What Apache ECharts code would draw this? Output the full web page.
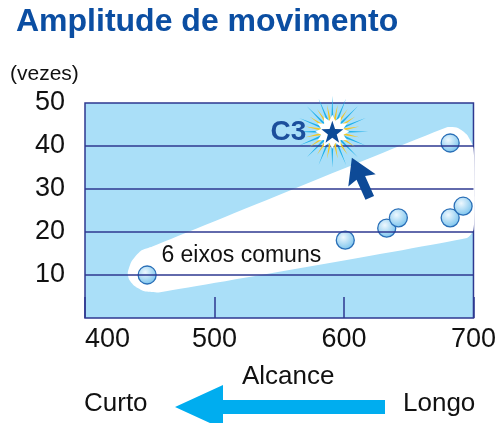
<!DOCTYPE html>
<html>
<head>
<meta charset="utf-8">
<script src="https://cdn.jsdelivr.net/npm/echarts@6/dist/echarts.min.js"></script>
<style>
  html, body { margin: 0; padding: 0; background: #fff; }
  #chart { width: 499px; height: 423px; }
</style>
</head>
<body>
<div id="chart"></div>
<script>
// eixos
const xMin = 400, xMax = 700, xStep = 100
const yMin = 0, yMax = 50, yStep = 10
const linhasY = [10, 20, 30, 40]

// 6 eixos comuns (alcance, vezes)
const alcance = [448, 601, 633, 642, 682, 692, 682]
const vezes = [10, 18.1, 20.9, 23.3, 23.3, 26, 40.7]

// C3
const c3 = [591, 43.3]

// faixa branca em volta dos pontos (contorno em coordenadas de dados)
const faixaX = [433, 436, 443, 452, 679, 688, 695, 700, 701, 700, 695, 458, 446, 438, 434]
const faixaY = [10.5, 13.2, 15.6, 16.6, 44.3, 44.2, 42.6, 39.5, 28, 20.5, 18.6, 6.0, 6.2, 7.5, 9.0]

// seta azul escura (aponta para C3)
const setaPos = [613, 32.6]

// texto da faixa
const textoFaixa = [459, 14.6]

const navy = '#2e3990'
const azulEscuro = '#0d4a97'

const chart = echarts.init(document.getElementById('chart'))

// caminho de estrela com pontas (explosao)
function spikes (n, rIn, rOut, rot) {
  let d = ''
  for (let i = 0; i < n * 2; i++) {
    const r = i % 2 === 0 ? rOut : rIn
    const a = (i / (n * 2)) * Math.PI * 2 + rot
    const x = (50 + r * Math.sin(a)).toFixed(2)
    const y = (50 - r * Math.cos(a)).toFixed(2)
    d += (i === 0 ? 'M' : 'L') + x + ',' + y
  }
  return 'path://' + d + 'Z'
}

const pontos = alcance.map((x, i) => [x, vezes[i]])

const option = {
  animation: false,
  title: {
    text: 'Amplitude de movimento',
    left: 11,
    top: 1,
    textStyle: { fontFamily: 'Liberation Sans', fontSize: 32, fontWeight: 'bold', color: '#0b4ea2' }
  },
  grid: {
    left: 85, right: 23, top: 103, bottom: 105,
    show: true,
    backgroundColor: '#aadff8',
    borderColor: navy,
    borderWidth: 1.5
  },
  xAxis: {
    type: 'value',
    min: xMin, max: xMax, interval: xStep,
    axisLine: { show: false },
    splitLine: { show: false },
    axisTick: { show: true, inside: true, length: 21, lineStyle: { color: navy, width: 1.5 } },
    axisLabel: { fontFamily: 'Liberation Sans', fontSize: 27, color: '#111', margin: 8, alignMinLabel: 'left' }
  },
  yAxis: {
    type: 'value',
    min: yMin, max: yMax, interval: yStep,
    axisLine: { show: false },
    axisTick: { show: false },
    splitLine: { show: false },
    axisLabel: {
      fontFamily: 'Liberation Sans', fontSize: 27, color: '#111', margin: 20,
      formatter: v => (v === 0 ? '' : v)
    }
  },
  graphic: [
    { type: 'text', left: 10, top: 64, style: { text: '(vezes)', fontFamily: 'Liberation Sans', fontSize: 21, fill: '#111' } },
    { type: 'text', left: 242, top: 364, style: { text: 'Alcance', fontFamily: 'Liberation Sans', fontSize: 26, fill: '#111' } },
    { type: 'text', left: 84, top: 391, style: { text: 'Curto', fontFamily: 'Liberation Sans', fontSize: 26, fill: '#111' } },
    { type: 'text', left: 403, top: 391, style: { text: 'Longo', fontFamily: 'Liberation Sans', fontSize: 26, fill: '#111' } },
    {
      type: 'polygon',
      shape: { points: [[175, 407], [223, 385], [223, 400], [385, 400], [385, 414], [223, 414], [223, 429]] },
      style: { fill: '#00adef' }
    }
  ],
  series: [
    {
      // faixa branca + linhas horizontais por cima
      type: 'custom',
      z: 1,
      silent: true,
      data: [[xMin, yMin]],
      renderItem: function (params, api) {
        const pts = faixaX.map((x, i) => api.coord([x, faixaY[i]]))
        return {
          type: 'polygon',
          shape: { points: pts, smooth: 0.2 },
          style: { fill: '#ffffff' }
        }
      },
      markLine: {
        silent: true,
        symbol: 'none',
        label: { show: false },
        lineStyle: { color: navy, width: 1.5, type: 'solid' },
        data: linhasY.map(v => ({ yAxis: v }))
      }
    },
    {
      type: 'scatter',
      z: 3,
      data: pontos,
      symbol: 'circle',
      symbolSize: 18,
      itemStyle: {
        opacity: 1,
        color: {
          type: 'radial', x: 0.4, y: 0.35, r: 0.7,
          colorStops: [{ offset: 0, color: '#eef8fe' }, { offset: 1, color: '#72c0ec' }]
        },
        borderColor: '#2a6fb7',
        borderWidth: 1.3
      }
    },
    {
      // texto "6 eixos comuns"
      type: 'scatter',
      z: 3,
      silent: true,
      data: [textoFaixa],
      symbolSize: 0,
      itemStyle: { opacity: 1 },
      label: {
        show: true, position: 'right', distance: 0,
        formatter: '6 eixos comuns',
        fontFamily: 'Liberation Sans', fontSize: 23, color: '#111'
      }
    },
    {
      // explosao azul
      type: 'scatter', z: 4, silent: true,
      data: [c3],
      symbol: spikes(16, 9, 50, 0),
      symbolSize: 72,
      itemStyle: { color: '#1fb0ea', opacity: 1 }
    },
    {
      // explosao amarela
      type: 'scatter', z: 5, silent: true,
      data: [c3],
      symbol: spikes(16, 13, 50, Math.PI / 16),
      symbolSize: 54,
      itemStyle: { color: '#f3c623', opacity: 1 }
    },
    {
      // brilho branco
      type: 'scatter', z: 6, silent: true,
      data: [c3],
      symbol: spikes(12, 34, 50, 0),
      symbolSize: 34,
      itemStyle: { color: '#ffffff', opacity: 1 }
    },
    {
      // estrela C3
      type: 'scatter', z: 7,
      data: [c3],
      symbol: spikes(5, 20, 50, 0),
      symbolSize: 22,
      itemStyle: { color: azulEscuro, opacity: 1 },
      label: {
        show: true, position: 'left', distance: 15,
        formatter: 'C3',
        fontFamily: 'Liberation Sans', fontSize: 28, fontWeight: 'bold', color: '#1c4f9c'
      }
    },
    {
      // seta que aponta para C3
      type: 'scatter', z: 7, silent: true,
      data: [setaPos],
      symbol: 'path://M16,0 L32,26 L21,23 L21,46 L11,46 L11,23 L0,26 Z',
      symbolSize: [30, 44],
      symbolRotate: 24,
      itemStyle: { color: azulEscuro, opacity: 1 }
    }
  ]
}

chart.setOption(option)
</script>
</body>
</html>
